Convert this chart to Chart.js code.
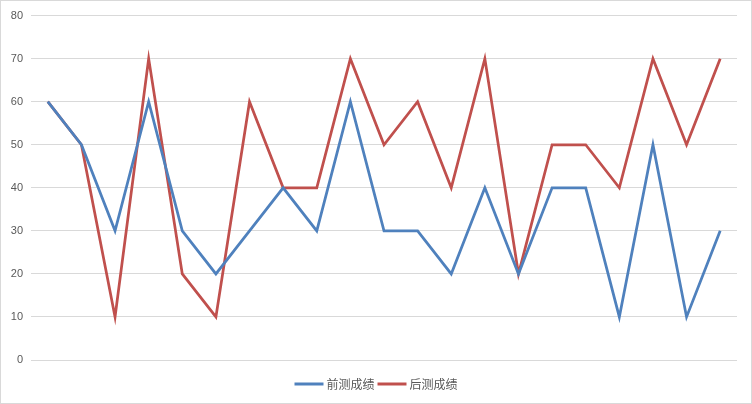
<!DOCTYPE html>
<html><head><meta charset="utf-8">
<script src="https://cdn.jsdelivr.net/npm/chart.js@4"></script>
<style>
html,body{margin:0;padding:0;background:#fff;}
#wrap{position:absolute;left:0;top:0;width:750px;height:402px;border:1px solid #d9d9d9;}
canvas{display:block;}
</style></head><body>
<div id="wrap"><canvas id="c" width="750" height="402"></canvas></div>
<script>
const categories = ["1","2","3","4","5","6","7","8","9","10","11","12","13","14","15","16","17","18","19","20","21"];
const preScores  = [60,50,30,60,30,20,30,40,30,60,30,30,20,40,20,40,40,10,50,10,30];
const postScores = [60,50,10,70,20,10,60,40,40,70,50,60,40,70,20,50,50,40,70,50,70];
const seriesNames = ["前测成绩","后测成绩"];
const yTicks = {min:0, max:80, step:10};

const legendFont = '12px "Noto Sans CJK SC", sans-serif';
const bottomLegend = {
  id:'bottomLegend',
  afterDraw(chart){
    const ctx = chart.ctx;
    ctx.save();
    ctx.font = legendFont;
    const lineW = 29, gapText = 3, gapItem = 3;
    const items = chart.data.datasets.map(d => ({label:d.label, color:d.borderColor, w: ctx.measureText(d.label).width}));
    const total = items.reduce((a,it)=>a+lineW+gapText+it.w,0) + gapItem*(items.length-1);
    let x = (chart.width - total)/2;
    const y = 383;
    ctx.textBaseline = 'middle';
    ctx.fillStyle = '#595959';
    items.forEach(it => {
      ctx.strokeStyle = it.color; ctx.lineWidth = 3; ctx.lineCap='butt';
      ctx.beginPath(); ctx.moveTo(x, y); ctx.lineTo(x+lineW, y); ctx.stroke();
      x += lineW + gapText;
      ctx.fillStyle = '#595959';
      ctx.fillText(it.label, x, y);
      x += it.w + gapItem;
    });
    ctx.restore();
  }
};

new Chart(document.getElementById('c'), {
  type: 'line',
  data: {
    labels: categories,
    datasets: [
      {label: seriesNames[0], data: preScores, borderColor:'#4f81bd', backgroundColor:'#4f81bd', borderWidth:2.75, pointRadius:0, tension:0},
      {label: seriesNames[1], data: postScores, borderColor:'#c0504d', backgroundColor:'#c0504d', borderWidth:2.75, pointRadius:0, tension:0}
    ]
  },
  options: {
    responsive:false, animation:false,
    layout:{padding:{top:14,right:14,left:0,bottom:43}},
    plugins:{
      tooltip:{enabled:false},
      legend:{display:false}
    },
    scales:{
      x:{offset:true, grid:{display:false, drawTicks:false}, border:{display:false}, ticks:{display:false},
         afterFit(s){ s.height = 0; }},
      y:{min:yTicks.min, max:yTicks.max, grid:{color:'#d9d9d9', drawTicks:false, lineWidth:1}, border:{display:false},
         ticks:{stepSize:yTicks.step, color:'#595959', padding:8, font:{family:'"Liberation Sans", Arial, sans-serif', size:11}},
         afterFit(s){ s.width = 30; }}
    }
  },
  plugins:[bottomLegend]
});
</script>
</body></html>
